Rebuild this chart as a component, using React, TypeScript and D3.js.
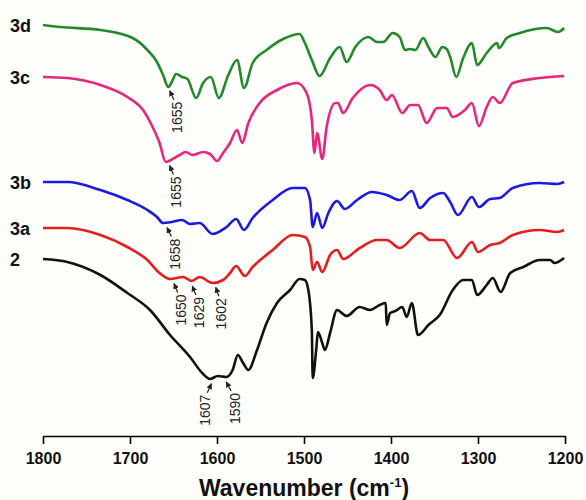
import React, { useEffect, useRef } from "react";
import * as d3 from "d3";

// IR spectra, wavenumber (cm-1) vs transmittance (a.u., stacked)
const s3d: [number, number][] = [
  [1800, 415], [1780, 413], [1734, 410], [1697, 402], [1680, 390], [1669, 378], [1662, 365],
  [1656, 353], [1652, 358], [1647, 366], [1640, 363], [1634, 361], [1624, 342], [1616, 357],
  [1607, 363], [1598, 342], [1587, 365], [1577, 380], [1569, 352], [1559, 377], [1543, 390],
  [1524, 401], [1505, 406], [1499, 397], [1491, 380], [1482, 364], [1470, 382], [1459, 393],
  [1451, 378], [1441, 393], [1426, 403], [1416, 398], [1409, 398], [1398, 407], [1390, 403],
  [1384, 390], [1378, 391], [1372, 390], [1363, 402], [1357, 393], [1349, 383], [1341, 393],
  [1336, 391], [1332, 383], [1325, 363], [1317, 382], [1307, 397], [1301, 375], [1290, 387],
  [1278, 397], [1276, 392], [1267, 402], [1252, 407], [1221, 412], [1208, 408], [1201, 412],
];

const s3c: [number, number][] = [
  [1800, 363], [1772, 362], [1734, 355], [1703, 343], [1685, 330], [1674, 313], [1666, 297],
  [1659, 278], [1651, 281], [1643, 285], [1636, 288], [1628, 285], [1616, 288], [1608, 286],
  [1600, 279], [1593, 287], [1585, 297], [1577, 310], [1571, 297], [1564, 317], [1551, 337],
  [1531, 350], [1508, 357], [1497, 347], [1491, 320], [1488, 287], [1485, 307], [1479, 281],
  [1474, 313], [1464, 337], [1461, 337], [1455, 327], [1444, 342], [1424, 355], [1413, 350],
  [1405, 340], [1399, 345], [1387, 327], [1378, 335], [1369, 335], [1359, 317], [1347, 332],
  [1336, 332], [1329, 323], [1315, 330], [1307, 337], [1299, 314], [1290, 333], [1283, 343],
  [1275, 337], [1260, 357], [1229, 362], [1201, 364],
];

const s3b: [number, number][] = [
  [1800, 258], [1772, 258], [1734, 250], [1703, 240], [1680, 230], [1669, 223], [1662, 217],
  [1652, 218], [1640, 220], [1631, 216], [1620, 217], [1605, 206], [1589, 213], [1578, 221],
  [1569, 210], [1559, 222], [1536, 240], [1513, 252], [1499, 252], [1493, 240], [1490, 213],
  [1485, 227], [1479, 212], [1472, 227], [1462, 239], [1453, 231], [1439, 240], [1422, 248],
  [1405, 245], [1390, 240], [1376, 249], [1367, 232], [1355, 242], [1340, 247], [1332, 238],
  [1323, 225], [1307, 243], [1299, 233], [1286, 241], [1275, 242], [1260, 252], [1229, 257],
  [1209, 256], [1201, 258],
];

const s3a: [number, number][] = [
  [1800, 212], [1772, 212], [1734, 205], [1703, 193], [1680, 180], [1666, 167], [1654, 161],
  [1639, 163], [1629, 159], [1620, 163], [1605, 157], [1593, 160], [1585, 167], [1578, 174],
  [1568, 164], [1559, 173], [1536, 190], [1513, 205], [1499, 203], [1493, 193], [1490, 170],
  [1485, 178], [1479, 168], [1470, 185], [1462, 190], [1455, 181], [1436, 192], [1416, 200],
  [1405, 200], [1390, 192], [1367, 207], [1355, 200], [1340, 200], [1324, 182], [1307, 198],
  [1300, 188], [1286, 195], [1275, 197], [1260, 205], [1229, 210], [1209, 208], [1201, 210],
];

const s2: [number, number][] = [
  [1800, 181], [1772, 178], [1734, 165], [1703, 147], [1677, 130], [1654, 105], [1631, 83],
  [1617, 67], [1608, 61], [1599, 64], [1589, 63], [1582, 70], [1576, 85], [1570, 77],
  [1564, 70], [1554, 90], [1543, 117], [1531, 137], [1516, 150], [1505, 161], [1499, 160],
  [1495, 150], [1491, 110], [1490, 62], [1486, 90], [1484, 108], [1479, 97], [1476, 90],
  [1470, 107], [1462, 130], [1451, 124], [1436, 133], [1424, 130], [1413, 135], [1406, 137],
  [1405, 115], [1401, 127], [1395, 129], [1387, 133], [1382, 123], [1376, 137], [1369, 105],
  [1357, 115], [1344, 125], [1329, 150], [1317, 160], [1307, 160], [1301, 145], [1290, 155],
  [1283, 162], [1274, 148], [1263, 167], [1248, 173], [1229, 180], [1217, 180], [1212, 177],
  [1201, 182],
];

const series = [
  { name: "3d", color: "#23892b", data: s3d },
  { name: "3c", color: "#e8267c", data: s3c },
  { name: "3b", color: "#1a1ae0", data: s3b },
  { name: "3a", color: "#e81c1e", data: s3a },
  { name: "2", color: "#111111", data: s2 },
];

// peak labels: series, wavenumber, text offset side
const peakSeries = ["3d", "3c", "3b", "3a", "3a", "3a", "2", "2"];
const peakWn = [1655, 1655, 1658, 1650, 1629, 1602, 1607, 1590];
const peakDx = [8, 7, 8, 7, 7, 6, -6, 9];

const ticks = [1800, 1700, 1600, 1500, 1400, 1300, 1200];

const x = d3.scaleLinear().domain([1800, 1200]).range([43, 565]);
const y = d3.scaleLinear().domain([0, 440]).range([440, 0]);

function valueAt(data: [number, number][], wn: number) {
  for (let i = 0; i < data.length - 1; i++) {
    let a = data[i], b = data[i + 1];
    if (wn <= a[0] && wn >= b[0]) {
      let t = (a[0] - wn) / (a[0] - b[0]);
      return a[1] + t * (b[1] - a[1]);
    }
  }
  return data[data.length - 1][1];
}

export default function App() {
  const axisRef = useRef<SVGGElement>(null);

  useEffect(() => {
    const g = d3.select(axisRef.current);
    g.call(d3.axisBottom(x).tickValues(ticks).tickFormat(d3.format("d")).tickSize(8).tickSizeOuter(0).tickPadding(9) as any);
    g.select(".domain").attr("stroke-width", 1.6);
    g.selectAll(".tick line").attr("stroke-width", 1.6);
    g.selectAll(".tick text")
      .attr("font-family", "Liberation Sans, Arial, sans-serif")
      .attr("font-size", 16)
      .attr("font-weight", "bold")
      .attr("fill", "#111");
  }, []);

  const line = d3.line<[number, number]>().x(d => x(d[0])).y(d => y(d[1])).curve(d3.curveMonotoneX);

  return (
    <svg width={586} height={500} style={{ position: "absolute", left: 0, top: 0, background: "#fefefa" }}>
      <defs>
        <marker id="arr" viewBox="0 0 10 10" refX="9" refY="5" markerWidth="5" markerHeight="5" orient="auto">
          <path d="M0,0L10,5L0,10z" fill="#222" />
        </marker>
      </defs>
      {series.map(s => (
        <g key={s.name}>
          <path d={line(s.data) || ""} fill="none" stroke={s.color} strokeWidth={2.6} strokeLinejoin="round" />
          <text x={10} y={y(s.data[0][1])} dy="0.38em" fontFamily="Liberation Sans, Arial, sans-serif"
            fontSize={18} fontWeight="bold" fill="#111">{s.name}</text>
        </g>
      ))}
      {peakWn.map((wn, i) => {
        let s = series.find(d => d.name === peakSeries[i])!;
        let tx = x(wn);
        let ty = y(valueAt(s.data, wn)) + 4;
        let dx = peakDx[i];
        return (
          <g key={i}>
            <line x1={tx + dx * 0.6} y1={ty + 10} x2={tx + 0.5} y2={ty + 1} stroke="#222" strokeWidth={1.2} markerEnd="url(#arr)" />
            <text transform={`translate(${tx + dx},${ty + 12}) rotate(-90)`} textAnchor="end" dy="0.36em"
              fontFamily="Liberation Sans, Arial, sans-serif" fontSize={14} fill="#222">{wn}</text>
          </g>
        );
      })}
      <g ref={axisRef} transform="translate(0,436)" />
      <text x={304} y={496} textAnchor="middle" fontFamily="Liberation Sans, Arial, sans-serif"
        fontSize={23} fontWeight="bold" fill="#111">
        Wavenumber (cm<tspan fontSize={13} dy={-9}>-1</tspan><tspan dy={9}>)</tspan>
      </text>
    </svg>
  );
}
